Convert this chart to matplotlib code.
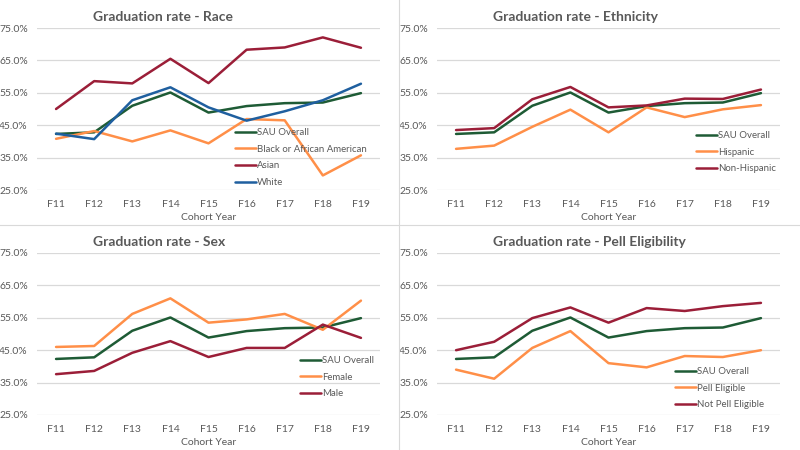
import matplotlib.pyplot as plt

plt.rcParams['font.family'] = ['Lato', 'DejaVu Sans']

# cohort years on the x axis
cohorts = ["F11", "F12", "F13", "F14", "F15", "F16", "F17", "F18", "F19"]

# graduation rates (%)
sau_overall = [42.3, 42.8, 51.0, 55.1, 48.9, 50.9, 51.8, 52.0, 54.9]

black = [40.8, 43.2, 40.0, 43.4, 39.4, 46.9, 46.5, 29.5, 35.7]
asian = [50.0, 58.6, 57.9, 65.5, 58.0, 68.3, 69.0, 72.1, 68.9]
white = [42.4, 40.7, 52.7, 56.7, 50.5, 46.4, 49.3, 52.7, 57.8]

hispanic = [37.7, 38.7, 44.5, 49.8, 42.8, 50.5, 47.5, 49.9, 51.2]
non_hispanic = [43.5, 44.1, 53.0, 56.8, 50.5, 51.1, 53.2, 53.1, 56.0]

female = [46.0, 46.3, 56.2, 61.0, 53.5, 54.5, 56.2, 51.3, 60.3]
male = [37.6, 38.6, 44.2, 47.8, 42.9, 45.7, 45.7, 52.9, 48.8]

pell = [39.0, 36.2, 45.7, 50.9, 41.0, 39.7, 43.2, 42.9, 45.0]
not_pell = [45.0, 47.6, 54.9, 58.2, 53.5, 58.0, 57.1, 58.6, 59.6]

yticks = [25, 35, 45, 55, 65, 75]

GREEN = "#1E5B35"
ORANGE = "#FF8F48"
CRIMSON = "#9B1E38"
BLUE = "#1F5F9F"
GREY = "#595959"

W, H = 800, 450
fig = plt.figure(figsize=(8, 4.5), dpi=100)
fig.patch.set_facecolor("white")


def px(x, y):
    """pixel coords (from top-left) -> figure fraction"""
    return x / W, 1 - y / H


def panel(ox, oy, title, series, leg_x, leg_y):
    # axes area: x 37..380, y 28..190 inside a 400x225 panel
    left, top = px(ox + 37, oy + 28)
    right, bottom = px(ox + 380, oy + 190)
    ax = fig.add_axes([left, bottom, right - left, top - bottom])
    x = range(len(cohorts))
    for label, vals, col in series:
        ax.plot(x, vals, color=col, lw=1.8, label=label, solid_capstyle="round")
    ax.set_xlim(-0.5, len(cohorts) - 0.5)
    ax.set_ylim(25, 75)
    ax.set_yticks(yticks)
    ax.set_yticklabels([f"{v:.1f}%" for v in yticks])
    ax.set_xticks(list(x))
    ax.set_xticklabels(cohorts)
    ax.tick_params(length=0, labelsize=7.5, labelcolor=GREY)
    ax.tick_params(axis="y", pad=6.5)
    ax.tick_params(axis="x", pad=7)
    ax.grid(axis="y", color="#D9D9D9", lw=0.9)
    ax.set_axisbelow(True)
    for s in ax.spines.values():
        s.set_visible(False)
    ax.set_xlabel("Cohort Year", fontsize=7.5, color=GREY, labelpad=3)
    tx, ty = px(ox + 93, oy + 17)
    fig.text(tx, ty, title, fontsize=10, fontweight="bold", color=GREY,
             ha="left", va="center")
    lx, ly = px(ox + leg_x, oy + leg_y)
    fig.legend(handles=ax.get_lines(), loc="upper left", bbox_to_anchor=(lx, ly),
               frameon=False, fontsize=6.9, labelcolor=GREY, handlelength=2.2,
               handletextpad=0.1, labelspacing=0.8, borderpad=0, borderaxespad=0)
    return ax


panel(0, 0, "Graduation rate - Race",
      [("SAU Overall", sau_overall, GREEN),
       ("Black or African American", black, ORANGE),
       ("Asian", asian, CRIMSON),
       ("White", white, BLUE)], 235, 128)

panel(400, 0, "Graduation rate - Ethnicity",
      [("SAU Overall", sau_overall, GREEN),
       ("Hispanic", hispanic, ORANGE),
       ("Non-Hispanic", non_hispanic, CRIMSON)], 296, 131)

panel(0, 225, "Graduation rate - Sex",
      [("SAU Overall", sau_overall, GREEN),
       ("Female", female, ORANGE),
       ("Male", male, CRIMSON)], 300, 131)

panel(400, 225, "Graduation rate - Pell Eligibility",
      [("SAU Overall", sau_overall, GREEN),
       ("Pell Eligible", pell, ORANGE),
       ("Not Pell Eligible", not_pell, CRIMSON)], 275, 142)

# thin panel separators
fig.add_artist(plt.Line2D([0, 1], [1 - 224.5 / H] * 2, color="#D9D9D9", lw=0.8))
fig.add_artist(plt.Line2D([398.5 / W] * 2, [0, 1], color="#D9D9D9", lw=0.8))

fig.savefig("out.png", dpi=100)
